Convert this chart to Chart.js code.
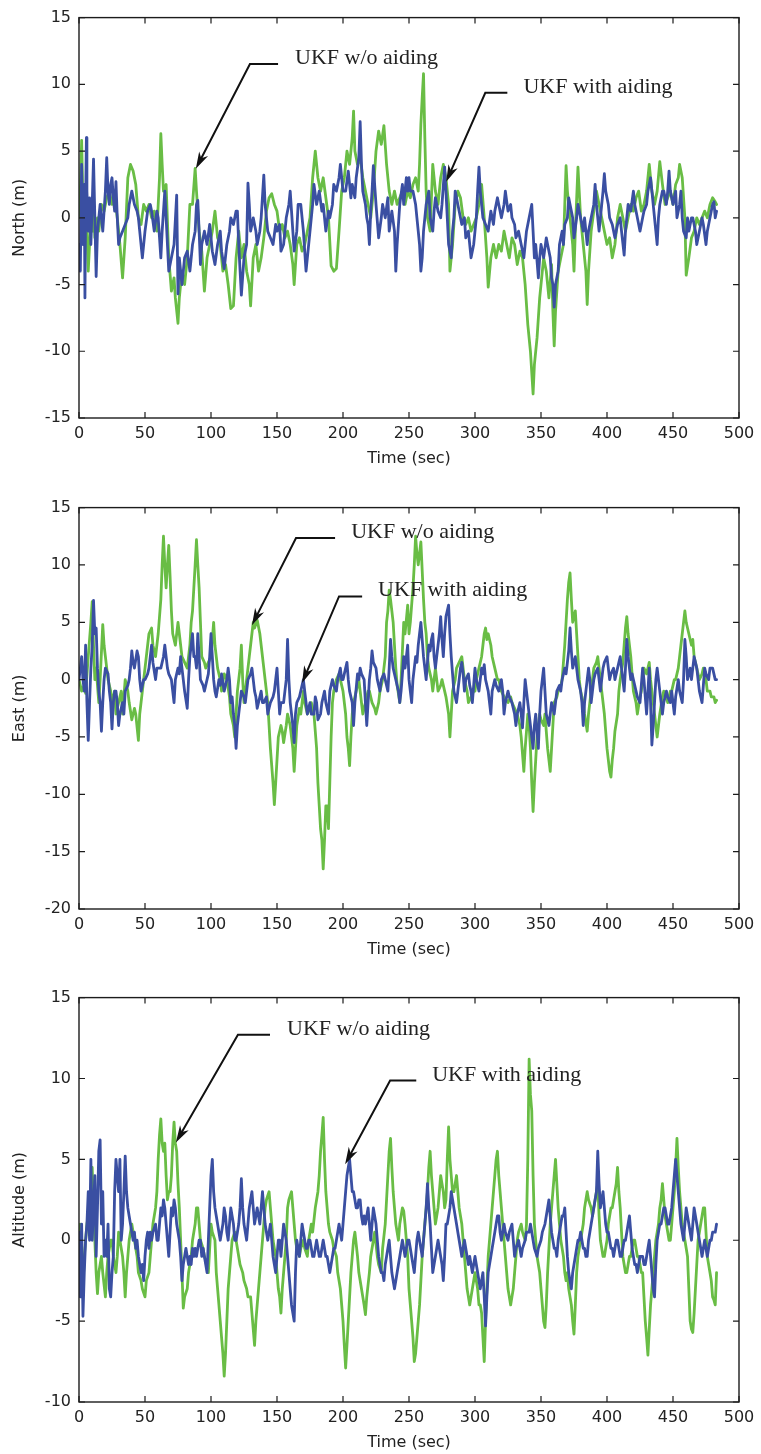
<!DOCTYPE html>
<html>
<head>
<meta charset="utf-8">
<script src="https://cdn.jsdelivr.net/npm/chart.js"></script>
<style>
  html, body { margin: 0; padding: 0; background: #ffffff; }
  #wrap { position: relative; width: 761px; height: 1454px; }
  canvas { position: absolute; left: 0; }
</style>
</head>
<body>
<div id="wrap">
  <canvas id="north" width="761" height="490" style="top:0px"></canvas>
  <canvas id="east" width="761" height="490" style="top:490px"></canvas>
  <canvas id="alt" width="761" height="474" style="top:980px"></canvas>
</div>
<script>
// Axis ranges
const timeRange = [0, 500];
const timeStep = 50;
const northRange = [-15, 15];
const eastRange = [-20, 15];
const altRange = [-10, 15];
const errorStep = 5;

// Position error series, [time (sec), error (m)]
const northWithoutAiding = [[0,0],[1,2],[2,5.8],[3,1],[4,-1],[5,2],[6,-1],[7,-4],[8,-2],[9,0],[10,-1],[11,1.5],[12,-1.5],[14,0],[15,-1],[17,1],[19,0.5],[21,1.5],[23,2],[25,1],[27,1.5],[29,0],[31,-2],[33,-4.5],[35,-1.5],[37,3],[39,4],[41,3.5],[43,2.5],[45,0],[47,-0.5],[49,1],[51,0.5],[53,1],[55,0],[57,0.5],[59,-1],[61,3],[62,6.3],[63,4],[64,2],[66,2.5],[68,-3],[70,-5.5],[72,-4.5],[73,-6],[75,-7.9],[76,-6],[78,-4],[80,-5],[82,-3],[84,1],[86,1],[88,3.7],[89,2],[91,-1],[93,-2.5],[95,-5.5],[97,-3],[99,-2],[101,-1],[103,0.5],[105,-1.5],[107,-2],[109,-4],[111,-3.5],[113,-5],[115,-6.8],[117,-6.6],[119,-3],[121,-1],[123,-3],[125,-2],[127,-4],[129,-5],[130,-6.6],[132,-3],[134,-2],[136,-4],[138,-3],[140,-1.5],[142,0.5],[144,1.5],[146,1.8],[148,1],[150,0.5],[152,-1],[154,-0.5],[156,-1.5],[158,-1],[160,-2],[162,-3.5],[163,-5],[165,-2],[167,-1.5],[169,-2.5],[171,-2],[173,-1],[175,0],[177,3],[179,5],[181,3],[183,2],[185,3],[187,1.5],[189,0],[191,-3.6],[193,-4],[195,-3.8],[197,-1],[199,2],[201,3],[203,5],[205,4],[207,6],[208,8],[209,5],[211,4],[213,4.5],[215,3],[217,2],[219,1],[221,0],[223,2],[225,5],[227,6.5],[229,5.5],[231,6.9],[233,4],[235,2],[237,1],[239,2],[241,1],[243,1.5],[245,2],[247,1],[249,2],[251,1.5],[253,2.5],[255,3],[257,2],[258,4],[259,7],[260,9],[261,10.8],[262,6],[263,2],[264,0],[266,-1],[268,4],[270,2],[272,1],[274,3],[276,4],[278,3],[280,1],[281,-4],[283,-2],[285,1],[287,2],[289,1.5],[291,0],[293,-0.5],[295,0],[297,-1],[299,-0.5],[301,0],[303,1],[305,2.5],[307,0],[309,-3],[310,-5.2],[312,-3],[314,-2],[316,-3],[318,-2],[320,-2.5],[322,-1],[324,-2],[326,-3],[328,-1.5],[330,-2],[332,-3.5],[334,-2.5],[336,-3],[338,-5],[340,-8],[342,-10],[344,-13.2],[345,-11],[347,-9],[349,-6],[350,-5],[352,-3],[354,-4],[356,-6],[358,-3.5],[359,-7],[360,-9.6],[361,-7],[363,-4],[365,-3],[367,-2],[369,3.9],[370,2],[372,0],[374,-2],[375,-4],[376,-1],[378,3.8],[380,0],[382,-2],[384,-4],[385,-6.5],[386,-4],[388,-1],[390,0.5],[392,2],[394,1],[396,0],[398,-1],[400,-2],[402,-1.5],[404,-3],[406,-2],[408,0],[410,1],[412,0],[414,-1],[416,0],[418,1],[420,0.5],[422,1.5],[424,2],[426,0.5],[428,1],[430,2],[432,4],[434,2],[436,1],[438,2],[440,4.2],[442,2.5],[444,1],[446,1.5],[448,2],[450,1],[452,2.5],[454,3],[455,4],[457,3],[459,0],[460,-4.3],[462,-3],[464,-1.5],[466,-1],[468,0],[470,-0.5],[472,0],[474,0.5],[476,0],[478,1],[480,1.5],[482,1.2],[483,1]];

const northWithAiding = [[0,-2],[1,-4],[2,4],[3,-2],[4,2.5],[4.5,-6],[5,1],[5.6,6],[6,2],[7,-1],[8,1.5],[9,-2],[10,1],[11,4.4],[12,0],[13,-4.4],[14,-1],[15,0],[16,1],[17,0],[18,-1],[19,0.5],[20,2],[21,4.5],[22,2],[23,1],[24,2.5],[25,3],[26,1.5],[27,0.5],[28,2.7],[29,0],[30,-2],[31,-1.5],[33,-1],[35,-0.5],[37,0],[38,1],[40,2],[42,1],[44,0.5],[45,0],[46,-1],[48,-3],[50,-1],[52,0.5],[54,1],[55,0.5],[57,-1],[59,0.5],[60,0],[62,-3],[63,-1],[65,2],[66,0],[68,-4],[70,-3],[72,-2],[74,1.7],[75,-5.7],[76,-3],[78,-5],[80,-3],[82,-2.5],[84,-4],[86,-2],[88,-1],[89,1],[90,1.3],[91,-1],[92,-3.5],[93,-2],[95,-1],[97,-2],[99,-0.5],[100,-1.5],[101,-2.5],[103,-3.5],[105,-2],[107,-1],[108,-2.5],[110,-3.8],[112,-2],[114,-1],[115,0],[117,-0.5],[119,0.5],[120,0.5],[121,-2],[123,-5.8],[125,-3],[127,-2],[128,2.6],[129,1],[130,-1],[132,0],[134,-1],[135,-2],[137,-1],[138,0],[140,3.2],[141,1],[143,-1],[145,-1.5],[147,-2],[149,-0.5],[150,-1],[152,-0.5],[153,-2.5],[155,-2],[157,0],[159,1],[160,2],[161,0.5],[162,-1],[163,-2.5],[165,-1],[166,1],[168,1],[170,-1],[172,-4],[173,-3],[175,-1],[177,1],[178,2.5],[180,1],[182,2],[184,0.5],[185,1],[187,-1],[189,0.5],[190,0],[192,1],[193,2.5],[195,2],[197,3],[198,4],[200,2],[202,2],[204,3.5],[206,1.5],[207,2.5],[209,1.5],[210,3],[212,4.5],[213,7.2],[214,4],[215,2],[217,1],[218,0],[219,-0.5],[220,-2],[221,0.5],[222,2],[223,3.9],[225,1],[227,-1.5],[229,0],[230,1],[232,0],[234,1.5],[235,-1],[237,0.5],[239,-1],[240,-4],[241,-2],[243,1],[245,2.5],[246,1],[248,3],[249,2],[250,3],[251,2],[253,2],[255,1],[256,0],[257,-1],[258,-2],[259,-4],[260,-3],[261,-1],[262,0],[263,1],[265,2],[266,0],[268,-1],[269,0.5],[270,1.5],[272,0.5],[274,0],[275,1],[277,3.8],[278,2],[279,0],[280,-2],[282,-3],[283,-1],[284,0],[285,2],[287,1],[289,0],[290,-0.5],[292,0],[293,-1.5],[295,-1],[297,-3],[299,-2],[300,-1],[301,0],[302,2],[303,3.8],[304,2],[306,0],[308,-0.5],[310,-1],[312,0.5],[314,-0.5],[315,0.5],[317,1.5],[318,1],[320,0],[322,1],[323,2],[325,0.5],[327,1],[328,0],[330,-0.5],[331,-1.5],[333,-1],[335,-2],[337,-3],[339,-1],[341,0],[343,1],[344,-1],[345,-3],[346,-2],[348,-4.5],[349,-3],[350,-2],[352,-3],[354,-1.5],[355,-2],[357,-3],[358,-4.5],[359,-5],[360,-6.7],[361,-5],[362,-4.5],[363,-4],[364,-2],[366,-1],[367,-2],[368,-0.5],[370,0],[371,1.5],[372,1],[374,0],[375,-1.5],[377,0],[378,1],[380,0],[382,-1],[383,0],[385,-2],[386,-1],[388,0],[390,1],[391,2.5],[392,1],[394,-1],[395,0],[397,2],[398,3.3],[399,2],[401,1],[402,0],[404,-0.5],[406,-1.5],[408,-0.5],[410,0],[411,-1],[413,-2.8],[414,-1],[415,0],[416,1],[418,0.5],[420,2],[421,1],[423,0],[425,-1],[427,0],[428,0.5],[430,1],[431,2],[433,3],[434,2],[436,0],[437,-1],[438,-2],[439,0],[440,1],[442,2],[443,2],[445,1],[446,2],[447,3.5],[448,2],[450,1],[452,2],[453,0],[455,1],[456,2],[457,0],[458,-1],[460,-1.5],[461,0],[462,-1],[464,0],[465,0],[467,-1],[468,-2],[470,-1],[472,0],[473,-0.5],[475,-2],[476,-1],[478,0],[480,1],[481,1.2],[482,0],[483,0.5]];

const eastWithoutAiding = [[0,0],[2,-1],[4,-0.5],[5,-1.2],[7,2],[9,5],[10,6.8],[11,3],[12,0],[13,1],[15,-2],[16,0],[18,4.8],[19,3],[20,2],[22,0],[24,-1],[25,-2],[27,-1],[28,-3],[30,-2],[32,-1],[33,-3],[35,0],[37,-1],[38,-2],[40,-3.5],[42,-2.5],[43,-3],[45,-5.3],[46,-3],[48,-1],[50,1],[52,3],[53,4],[55,4.5],[56,3],[58,2],[60,4],[62,7],[63,10],[64,12.5],[65,10],[66,8],[67,10],[68,11.7],[69,9],[70,6],[71,4],[73,3],[75,5],[76,4],[78,2],[80,1.5],[82,1],[84,3],[85,5],[86,6],[87,8],[88,10],[89,12.2],[90,10],[91,8],[92,5],[93,2],[95,1.5],[96,1],[98,1.5],[100,2],[102,5],[103,3],[105,1],[107,0],[108,-1],[110,0.5],[112,0],[114,-1.5],[115,-3],[117,-4],[118,-5],[119,-3],[120,-1],[122,1],[123,3],[124,0],[125,-2],[127,0],[129,2],[130,3],[131,4],[132,5],[133,4.5],[135,5.2],[137,4],[138,3],[140,1],[141,0],[143,-2],[144,-4],[145,-6],[146,-7.5],[147,-9],[148,-10.9],[149,-9],[150,-7],[151,-5],[153,-4],[154,-4.5],[155,-5.5],[157,-4],[158,-3],[160,-4],[161,-5],[162,-6],[163,-8],[164,-6],[165,-4],[167,-2.5],[168,-3],[170,-1],[171,-2],[173,-3],[175,-2.5],[176,-2],[178,-3],[180,-6],[181,-9],[182,-11],[183,-13],[184,-14],[185,-16.5],[186,-14],[187,-11],[188,-11],[189,-13],[190,-9],[191,-5],[192,-2],[193,-1],[195,0],[197,0.5],[199,-0.5],[200,-1],[202,-3],[203,-5],[204,-6],[205,-7.5],[206,-5],[207,-3],[208,-2],[210,-1],[212,0],[213,-1],[215,-3],[217,-2],[219,-1],[220,-1],[222,-2],[224,-2.5],[225,-3],[227,-2],[228,-1],[230,0],[232,2],[233,5],[234,6],[235,7.8],[236,7],[237,6],[238,5],[239,3],[240,1],[241,-0.5],[243,-2],[244,0],[246,5],[247,4],[249,6.5],[250,4],[251,5],[253,8],[254,10],[255,12.5],[256,11],[257,10],[258,11],[259,12],[260,9.5],[261,7],[262,5],[263,4],[264,2],[265,1],[267,0],[268,-1],[269,0],[270,1],[272,-1],[274,-0.5],[275,0],[277,-1],[278,-1.5],[280,-3],[281,-5],[282,-3],[283,-1],[285,0],[286,1],[288,1.5],[290,2],[291,1],[292,0],[294,-1],[295,-2],[297,-1.5],[299,-1],[300,-1],[301,0],[303,1],[305,2],[306,3],[307,4],[308,4.5],[309,3.5],[310,4],[312,3],[313,2],[315,1],[317,0],[318,0],[320,-1],[322,-1.5],[325,-2],[327,-1.5],[328,-2],[330,-2.5],[332,-3],[334,-4],[335,-5],[336,-6.5],[337,-8],[338,-6],[340,-3],[341,-4],[342,-6],[343,-9],[344,-11.5],[345,-9],[346,-7],[347,-5],[349,-3],[350,-3.5],[352,-4],[353,-3],[355,-6],[356,-7],[357,-8],[358,-6],[359,-4],[360,-2],[362,-1.5],[363,-1],[365,-0.5],[366,0],[367,1.5],[368,3],[369,5],[370,7],[371,8.5],[372,9.3],[373,7],[374,5],[375,5.5],[376,6],[377,4],[378,2],[379,0],[380,-1],[382,-2],[383,-3],[385,-4.5],[386,-3],[388,-1],[389,0],[390,1],[392,1.5],[393,2],[395,0],[396,-1],[398,-3],[399,-4.5],[400,-6],[401,-7],[402,-8],[403,-8.5],[404,-7],[405,-6],[406,-4.5],[408,-3],[409,-1],[410,0],[412,1.5],[413,3],[414,4.5],[415,5.5],[416,4],[418,2],[419,0.5],[420,-1],[422,-2],[423,-3],[425,-1.5],[426,-1],[428,1],[430,0.5],[432,1.5],[433,0],[435,-2],[436,-3],[437,-4],[438,-5],[439,-4],[440,-3],[442,-1.5],[443,-1],[445,-1.5],[446,-2],[448,-1],[449,-1],[451,0],[452,0],[454,1],[455,2],[456,3],[457,4],[458,5],[459,6],[460,5],[461,4.5],[462,4],[464,3],[465,3.5],[466,2],[468,1],[469,0.5],[470,0],[472,0.5],[473,1],[475,0],[476,-1],[478,-1],[479,-1.5],[481,-1.5],[482,-2],[483,-1.8]];

const eastWithAiding = [[0,0],[1,1],[2,2],[3,0],[4,-1],[5,3],[6,-2],[7,-5.3],[8,-2],[9,1],[10,3],[11,6.9],[12,4],[13,4.5],[14,1],[15,-1],[16,-2],[17,-4.5],[18,-2],[19,0],[20,1],[22,0.5],[23,-1],[24,-2],[25,-4.3],[26,-2],[27,-1],[28,-1],[29,-2],[30,-4],[31,-3],[33,-2],[34,-3],[35,-1],[37,-0.5],[38,0],[39,1],[40,2.5],[41,1.5],[42,1],[44,2.5],[45,2],[46,0],[47,-1],[49,0],[50,0],[52,0.5],[53,1],[54,2],[55,3],[56,1.5],[58,0],[59,1],[60,1],[62,1],[63,1.5],[64,2],[65,3],[66,2],[67,1],[68,0.5],[70,0],[71,-1],[72,-2],[73,0],[75,1],[76,0.5],[77,2],[79,0],[80,-1],[82,-2.5],[83,0],[84,2],[86,4],[87,2],[88,2],[89,1],[90,4],[91,2],[92,0],[94,-0.5],[95,-1],[97,0],[98,0.5],[99,2],[100,4],[101,2],[102,0],[103,-1],[104,-1.5],[106,0],[107,-0.5],[108,0.5],[110,-1],[112,0],[113,1],[114,0],[115,-2],[116,-1.5],[117,-3],[118,-4],[119,-6],[120,-4],[121,-3],[122,-2],[123,-1],[125,-1.5],[126,-2],[127,-1],[128,0],[130,0.5],[131,1],[132,0],[133,-1],[134,-1.5],[135,-2.5],[137,-1.5],[138,-1],[139,-2],[140,-2],[142,-1.5],[143,-3],[144,-2.5],[145,-2],[147,-1.5],[148,-1],[149,0],[150,1],[151,-1],[152,-3],[153,-2],[155,-2],[156,-1],[157,0],[158,3.5],[159,0],[160,-2],[161,-3],[162,-4],[163,-5.5],[164,-3],[165,-2],[167,-1.5],[168,-1],[169,-0.5],[170,0],[171,-1],[173,-3],[174,-2.5],[175,-2],[176,-3],[178,-3],[179,-1.5],[180,-2],[181,-3.5],[183,-3],[184,-2],[186,-1],[187,-2],[189,-3],[190,-1],[192,0],[193,-0.5],[195,-1],[196,0],[198,1],[199,0],[200,0],[202,1],[203,1.5],[204,0],[205,-1],[207,-2],[208,-4],[209,-2],[211,0.5],[212,0],[213,1],[214,0.5],[216,0],[217,-2],[218,-4],[219,-2],[220,0],[221,1],[222,2.5],[223,1.5],[225,1],[226,0],[228,-1],[229,0],[231,0.5],[232,0],[234,-1],[235,1],[236,3.5],[237,2],[238,1],[239,0.5],[240,0],[242,-1],[243,-2],[244,-1],[246,2],[247,1],[249,3],[250,0],[251,-1],[252,-2],[253,0],[255,2],[256,1.5],[257,3],[258,4],[259,5],[260,3.5],[261,2],[262,1],[263,0],[264,1.5],[265,3],[266,2.5],[267,3.5],[268,4],[269,2],[270,1],[271,2],[272,3],[273,4],[274,5.5],[275,3.5],[276,2],[277,4],[278,5.5],[279,6],[280,6.5],[281,4],[282,2],[283,0.5],[284,-1],[285,-1.5],[286,-2],[287,-1],[288,0],[289,1],[290,1.5],[291,0.5],[292,-1],[293,0],[295,0.5],[296,-0.5],[297,-1],[298,-2],[299,-0.5],[300,1],[301,0],[302,-0.5],[303,-1],[304,0],[305,1],[306,0.5],[307,1.3],[308,0],[310,-1],[311,-2],[312,-3],[313,-1],[315,0],[316,-0.5],[318,-1],[319,-0.5],[320,0],[321,-1],[322,-3],[323,-2],[325,-1],[326,-1.5],[328,-2],[330,-3],[331,-4],[332,-3],[334,-2],[335,-3],[336,-4.2],[337,-2],[338,0],[339,-1],[340,-2],[341,-3],[342,-4],[343,-5],[344,-6],[345,-4],[346,-3],[347,-4.5],[348,-6],[349,-3],[350,-1],[351,0],[352,1],[353,-1],[354,-3],[355,-3.5],[356,-4],[357,-3],[358,-2],[359,-2.5],[360,-3],[361,-2],[362,-1],[364,-0.5],[365,-1],[366,0],[367,0.5],[368,1],[369,0.5],[370,1.5],[371,2.5],[372,4.5],[373,2.5],[374,1],[375,1.5],[376,2],[377,1],[378,0],[379,-0.5],[380,-1],[381,-2],[382,-4],[383,-2],[384,-1],[385,0],[386,1],[387,0],[388,-2],[389,-1],[390,0],[391,0.5],[393,1],[394,0],[395,-1],[396,0],[397,1],[398,1.5],[400,2],[401,1],[402,0],[403,0.5],[405,1],[406,0],[408,1],[409,1.5],[410,2],[411,1],[412,0],[413,-1],[414,1],[415,3.5],[416,2],[417,1],[418,0],[419,0.5],[420,0],[421,-0.5],[422,-1],[423,-1.5],[425,-2],[426,-0.5],[427,1],[428,0],[429,-1.5],[430,-3],[431,-1],[432,1],[433,-2],[434,-5.7],[435,-4],[436,-2],[437,0],[438,1],[439,0],[440,-1],[441,-2],[442,-3],[443,-2],[445,-1],[446,-1.5],[448,-2],[449,-1],[450,-2],[451,-3],[452,-1.5],[454,0],[455,-1],[457,-2],[458,0],[459,3.5],[460,2],[461,0],[462,0.5],[463,1],[464,0],[465,1],[466,2],[467,1.5],[468,1],[469,0],[470,-1],[471,-1.5],[472,-2],[473,-0.5],[474,1],[475,0.5],[477,0],[478,1],[480,1],[481,0.5],[482,0],[483,0]];

const altWithoutAiding = [[0,0],[1,1],[2,-1],[3,-3],[4,-1],[5,0],[6,1],[8,2],[9,3],[10,4.5],[11,2],[12,0],[13,-2],[14,-3.3],[15,-2],[17,-1],[18,-2],[20,-3.5],[21,-2],[22,-1],[24,0],[25,0],[26,-1],[28,-2],[29,-1],[30,0.5],[31,0],[33,-1],[34,-2],[35,-3.5],[36,-2],[38,0],[39,0.5],[40,1],[41,0.5],[42,0],[44,-1],[45,-2],[47,-2.5],[48,-3],[50,-3.5],[51,-2.5],[53,-2],[54,-1],[55,0],[56,1],[58,2],[59,3],[60,5],[61,6.5],[62,7.5],[63,6],[64,5.5],[65,6],[66,4],[67,2.5],[68,3],[69,3],[70,4],[71,6],[72,7.3],[73,6],[74,5.5],[75,3.5],[76,2],[77,0],[78,-2],[79,-4.2],[80,-3.5],[82,-3],[83,-2],[85,-1],[86,0],[88,1],[89,2],[90,2],[91,1],[92,0],[94,-0.5],[95,-1],[97,-1.5],[98,-2],[99,-0.5],[100,1],[101,0.5],[103,0],[104,-2],[106,-4],[107,-5],[108,-6],[109,-7],[110,-8.4],[111,-7],[112,-5],[113,-3],[114,-2],[115,-1],[116,0],[118,0.5],[119,0],[121,-1],[122,-1.5],[124,-2],[125,-2.5],[127,-3],[128,-3.5],[130,-3.5],[131,-4.5],[132,-5.5],[133,-6.5],[134,-5],[135,-4],[136,-3],[137,-2],[138,-1],[139,0],[140,1],[141,2],[142,2.5],[144,3],[145,2],[146,1],[147,0],[149,-1],[150,-2],[151,-3],[152,-3.5],[153,-4.5],[154,-3],[155,-2],[156,-1],[157,0],[158,2],[159,2.5],[161,3],[162,2],[163,1],[164,0],[165,-0.5],[167,-1],[168,-0.5],[170,0],[171,-0.5],[173,-1],[174,0],[176,1],[177,0.5],[179,2],[180,2.5],[181,3],[182,4],[183,5.5],[184,6.5],[185,7.6],[186,5],[187,3],[188,2],[189,1],[190,0.5],[192,0],[193,-0.5],[195,-1],[196,-2],[198,-3],[199,-4],[200,-5],[201,-6.5],[202,-7.9],[203,-6.5],[204,-5],[205,-3.5],[206,-2],[207,-1],[208,0],[209,0.5],[211,-1],[212,-2],[214,-3],[215,-3.5],[216,-4],[217,-4.6],[218,-3.5],[220,-2],[221,-1],[223,0],[224,0.5],[226,-1],[227,-1.5],[229,-2],[230,-0.5],[232,1],[233,2.5],[234,4],[235,5.5],[236,6.3],[237,4.5],[238,3],[239,2],[240,1],[241,0.5],[242,0],[243,1],[244,1.5],[245,2],[246,1.8],[247,1],[248,0],[249,-1],[250,-3],[251,-4],[252,-5],[253,-6],[254,-7.5],[255,-7],[256,-6],[257,-5],[258,-4],[259,-2.5],[260,-1],[261,0],[262,1],[263,2],[264,3],[265,4.5],[266,5.5],[267,4],[268,3],[269,2],[270,1],[271,1.5],[272,2],[273,3],[274,4],[275,3.5],[276,3],[277,2],[278,2.5],[279,5],[280,7],[281,5],[282,4],[283,3],[284,3],[285,3.5],[286,4],[287,3],[288,2],[289,1.5],[290,1],[291,0],[292,-1],[293,-2],[294,-3],[295,-3.5],[296,-4],[297,-3.5],[298,-3],[299,-2.5],[300,-2],[301,-2.5],[302,-3],[303,-4],[304,-4],[305,-4.5],[306,-6],[307,-7.5],[308,-5],[309,-3],[310,-1],[311,0],[312,1],[313,2],[314,3],[315,4],[316,5],[317,5.5],[318,4],[319,3],[320,2],[321,1],[322,0],[323,-1],[324,-2],[325,-3],[326,-3.5],[327,-4],[328,-3.5],[329,-3],[330,-2],[331,-1],[332,0],[333,0.5],[335,1],[336,0.5],[338,0],[339,1],[340,5],[341,11.2],[342,9],[343,8],[344,4],[345,1],[346,0],[347,-1],[348,-1.5],[349,-2],[350,-3],[351,-4],[352,-5],[353,-5.4],[354,-4],[355,-2],[356,-0.5],[357,1],[358,2],[359,3],[360,4],[361,5],[362,3.5],[363,2],[364,1],[365,0],[366,-0.5],[367,-1],[368,-2],[369,-2.5],[370,-2],[371,-3],[372,-3.5],[373,-4],[374,-5],[375,-5.8],[376,-4],[377,-2],[378,-1],[379,-0.5],[380,0],[381,0.5],[382,1],[383,2],[384,2.5],[385,3],[386,2.5],[388,2],[389,1.5],[390,2],[391,2.5],[392,3],[393,3.5],[394,1.5],[395,0],[396,-0.5],[397,-1],[398,-1],[399,-0.5],[400,0],[401,1],[402,1.5],[403,2],[404,2],[405,2.5],[406,3],[407,3.5],[408,4.5],[409,3],[410,2],[411,0.5],[412,-1],[413,-1.5],[414,-2],[415,-2],[416,-1.5],[417,-1],[418,-1],[419,-0.5],[420,0],[421,0],[422,-0.5],[423,-1],[424,-1],[425,-1.5],[426,-2],[427,-2],[428,-3.5],[429,-5],[430,-6],[431,-7.1],[432,-5.5],[433,-4],[434,-3],[435,-2],[436,-1],[437,0],[438,0.5],[439,1],[440,2],[441,2.5],[442,3.5],[443,2.5],[444,1.5],[445,1],[446,0.5],[447,0],[448,0],[449,1],[450,2],[451,3],[452,4.5],[453,6.3],[454,4.5],[455,3],[456,2],[457,1],[458,0.5],[459,0],[460,-0.5],[461,-1],[462,-3],[463,-5],[464,-5.5],[465,-5.7],[466,-4.5],[467,-3],[468,-1.5],[469,0],[470,0.5],[471,1],[472,1.5],[473,2],[474,2],[475,0.5],[476,-1],[477,-1.5],[478,-2],[479,-2.5],[480,-3.5],[481,-3.7],[482,-4],[483,-2]];

const altWithAiding = [[0,0.5],[1,-3.5],[2,1],[3,-4.7],[4,-2],[5,0],[6,1],[7,3],[8,0],[9,5],[10,0],[11,2],[12,4],[13,-1],[14,2],[15,5.5],[16,6.2],[17,1],[18,3],[19,-1],[20,0],[21,-1],[22,1],[23,-3],[24,-3.5],[25,-2],[26,-1],[27,3],[28,5],[29,4],[30,3],[31,5],[32,0],[33,1],[34,3],[35,5.2],[36,3],[37,2],[38,1.5],[39,1],[40,0.5],[41,0],[42,0.5],[43,-0.5],[44,0],[45,-1],[46,-1.5],[47,-2],[48,-1.5],[49,-2.5],[50,-1],[51,0],[52,0.5],[53,-0.5],[54,0.5],[55,0],[56,0.5],[58,1],[59,0],[60,0],[61,1],[62,2],[63,1.5],[64,2.5],[65,2],[66,1],[67,0],[68,-1],[69,0.5],[70,2],[71,1.5],[72,2.5],[73,2],[74,1],[75,0.5],[76,0],[77,-1],[78,-2.5],[79,-1.5],[80,-1],[81,-0.5],[82,-1],[83,-1.5],[84,-1],[85,-1.5],[86,-0.5],[87,-1],[88,-0.5],[89,-1],[90,-0.5],[91,0],[92,0],[93,-1],[94,-0.5],[95,-1],[96,-1.5],[97,-2],[98,0],[99,2],[100,4],[101,5],[102,3],[103,2],[104,1.5],[105,1],[106,0.5],[107,0],[108,0.5],[109,1],[110,2],[111,1.5],[112,0.5],[113,0],[114,1],[115,2],[116,1.5],[117,1],[118,0],[119,0],[120,0.5],[121,1],[122,2],[123,3.8],[124,2],[125,1],[126,0.5],[127,0],[128,1],[129,2],[130,2.5],[131,3],[132,2],[133,1],[134,1.5],[135,2],[136,1.5],[137,1],[138,2],[139,3],[140,2],[141,1],[142,0.5],[143,0],[144,0.5],[145,1],[146,0],[147,-1],[148,-1.5],[149,-2],[150,-1],[151,0],[152,0],[153,-1],[154,0],[155,1],[156,0.5],[157,0],[158,-1],[159,-2],[160,-3],[161,-4],[162,-4.5],[163,-5],[164,-2],[165,0],[166,-0.5],[167,-1],[168,0],[169,1],[170,0.5],[171,0],[172,-0.5],[173,-0.5],[174,0],[175,0],[176,-0.5],[177,-1],[178,-1],[179,-0.5],[180,0],[181,-0.5],[182,-1],[183,-1],[184,-0.5],[185,0],[186,-0.5],[187,-1],[188,-1],[189,-1.5],[190,-2],[191,-1.5],[192,-1],[193,-0.5],[194,-0.5],[195,0],[196,0.5],[197,1],[198,0.5],[199,0],[200,1],[201,2],[202,3],[203,4],[204,4.5],[205,5],[206,4],[207,3],[208,3],[209,2.5],[210,2],[211,2],[212,2.5],[213,2.5],[214,1.5],[215,1],[216,1.5],[217,1],[218,1.5],[219,2],[220,1],[221,0],[222,1],[223,2],[224,1.5],[225,1],[226,0],[227,-1],[228,-1.5],[229,-2],[230,-2],[231,-2.5],[232,-1.5],[233,-1],[234,-0.5],[235,0],[236,-1],[237,-2],[238,-2.5],[239,-3],[240,-2.5],[241,-2],[242,-1.5],[243,-1],[244,-0.5],[245,0],[246,-0.5],[247,-1],[248,-0.5],[249,0],[250,0],[251,-0.5],[252,-1],[253,-1.5],[254,-2],[255,-1],[256,0],[257,0.5],[258,0],[259,-0.5],[260,-1],[261,0],[262,1],[263,2],[264,3.5],[265,2],[266,1],[267,-0.5],[268,-2],[269,-1.5],[270,-1],[271,-0.5],[272,0],[273,-0.5],[274,-1],[275,-1.5],[276,-2.5],[277,-1],[278,1],[279,1],[280,1.5],[281,2],[282,3],[283,2.5],[284,2],[285,1.5],[286,1],[287,0.5],[288,0],[289,-0.5],[290,-1],[291,-0.5],[292,0],[293,-0.5],[294,-1],[295,-1.5],[296,-1],[297,-1.5],[298,-2],[299,-1.5],[300,-1],[301,-1.5],[302,-2],[303,-2.5],[304,-3],[305,-2.5],[306,-2],[307,-3.5],[308,-5.3],[309,-3.5],[310,-2],[311,-1.5],[312,-1],[313,-0.5],[314,0],[315,0.5],[316,1],[317,1.5],[318,1.5],[319,0.5],[320,0],[321,0.5],[322,1],[323,0.5],[325,0],[326,0.5],[328,1],[329,0],[330,-1],[331,-0.5],[333,0],[334,-0.5],[335,-1],[336,-0.5],[338,0],[339,0.5],[341,0.5],[342,1],[344,0],[345,-0.5],[347,-1],[348,-0.5],[350,0],[351,0.5],[353,1],[354,1.5],[355,2],[356,2.5],[357,1.5],[358,0.5],[359,0],[360,-0.5],[361,-0.5],[362,-1],[363,0],[364,0.5],[365,1],[366,1.5],[367,1.5],[368,2],[369,0.5],[370,-1],[371,-2],[372,-2.5],[373,-3],[374,-2],[375,-1.5],[376,-1],[377,-0.5],[378,0],[379,0],[380,0.5],[381,0],[382,-0.5],[383,-0.5],[384,-1],[385,-1],[386,0],[387,0.5],[388,1],[389,1.5],[390,2],[391,2.5],[392,3],[393,5.5],[394,3.5],[395,2],[396,2.5],[397,3],[398,2],[399,1],[400,0.5],[401,0.5],[402,0],[403,-0.5],[404,-0.5],[405,-1],[406,-0.5],[407,0],[408,0],[409,-0.5],[410,-1],[411,-1],[412,-0.5],[413,0],[414,0],[415,0.5],[416,1],[417,1.5],[418,0.5],[419,-0.5],[420,-1],[421,-1.5],[422,-1.5],[423,-2],[424,-1.5],[425,-1],[426,-1],[427,-1],[428,-1.5],[429,-1.5],[430,-1],[431,-0.5],[432,0],[433,-1],[434,-2],[435,-3],[436,-3.5],[437,-1.5],[438,0],[439,0.5],[440,1],[441,1],[442,1.5],[443,2],[444,2],[445,1.5],[446,1],[447,1],[448,1.5],[449,2],[450,3],[451,4],[452,5],[453,4],[454,3],[455,2],[456,1],[457,0.5],[458,0],[459,1],[460,2],[461,1.5],[462,1],[463,0.5],[464,0],[465,1],[466,2],[467,1.5],[468,1],[469,0.5],[470,0],[471,-0.5],[472,-1],[473,-0.5],[474,0],[475,-0.5],[476,-1],[477,-0.5],[478,0],[479,0],[480,0.5],[481,0.5],[482,0.5],[483,1]];

// Callout labels: arrow tip, elbow, end of the horizontal leader, text anchor (all in data units)
const callouts = {
  north: [
    { text: 'UKF w/o aiding', tip: [88.5, 3.67], elbow: [129.5, 11.52], end: [150.8, 11.52], label: [163.7, 11.52] },
    { text: 'UKF with aiding', tip: [278.2, 2.7], elbow: [307.8, 9.37], end: [324.5, 9.37], label: [336.7, 9.37] }
  ],
  east: [
    { text: 'UKF w/o aiding', tip: [131, 4.74], elbow: [164.4, 12.35], end: [194, 12.35], label: [206.2, 12.35] },
    { text: 'UKF with aiding', tip: [169, -0.29], elbow: [197, 7.25], end: [214.5, 7.25], label: [226.6, 7.25] }
  ],
  alt: [
    { text: 'UKF w/o aiding', tip: [73.4, 6.05], elbow: [120.4, 12.7], end: [144.7, 12.7], label: [157.6, 12.7] },
    { text: 'UKF with aiding', tip: [201.6, 4.7], elbow: [235.7, 9.87], end: [255.5, 9.87], label: [267.6, 9.87] }
  ]
};

const INK = '#1c1c1c';
const TEXT = '#222222';
const SANS = 'DejaVu Sans';

// Box around the axes with inward tick marks on all four sides
const framePlugin = {
  id: 'frame',
  afterDatasetsDraw(chart) {
    const { ctx, chartArea: a, scales: { x, y } } = chart;
    const len = 6;
    ctx.save();
    ctx.strokeStyle = INK;
    ctx.lineWidth = 1.2;
    ctx.beginPath();
    x.ticks.forEach(t => {
      const p = x.getPixelForValue(t.value);
      ctx.moveTo(p, a.bottom); ctx.lineTo(p, a.bottom - len);
      ctx.moveTo(p, a.top); ctx.lineTo(p, a.top + len);
    });
    y.ticks.forEach(t => {
      const p = y.getPixelForValue(t.value);
      ctx.moveTo(a.left, p); ctx.lineTo(a.left + len, p);
      ctx.moveTo(a.right, p); ctx.lineTo(a.right - len, p);
    });
    ctx.stroke();
    ctx.lineWidth = 1.4;
    ctx.strokeRect(a.left, a.top, a.right - a.left, a.bottom - a.top);
    ctx.restore();
  }
};

// Text callouts with bent leader and arrowhead
const calloutPlugin = {
  id: 'callouts',
  afterDraw(chart) {
    const items = callouts[chart.canvas.id] || [];
    const { ctx, scales: { x, y } } = chart;
    const px = p => [x.getPixelForValue(p[0]), y.getPixelForValue(p[1])];
    items.forEach(c => {
      const tip = px(c.tip), elbow = px(c.elbow), end = px(c.end), lab = px(c.label);
      const dx = tip[0] - elbow[0], dy = tip[1] - elbow[1];
      const L = Math.hypot(dx, dy), ux = dx / L, uy = dy / L;
      const hl = 17, hw = 5;
      ctx.save();
      ctx.strokeStyle = '#111';
      ctx.fillStyle = '#111';
      ctx.lineWidth = 2;
      ctx.lineJoin = 'miter';
      ctx.beginPath();
      ctx.moveTo(end[0], end[1]);
      ctx.lineTo(elbow[0], elbow[1]);
      ctx.lineTo(tip[0] - ux * hl * 0.6, tip[1] - uy * hl * 0.6);
      ctx.stroke();
      ctx.beginPath();
      ctx.moveTo(tip[0], tip[1]);
      ctx.lineTo(tip[0] - ux * hl - uy * hw, tip[1] - uy * hl + ux * hw);
      ctx.lineTo(tip[0] - ux * hl * 0.7, tip[1] - uy * hl * 0.7);
      ctx.lineTo(tip[0] - ux * hl + uy * hw, tip[1] - uy * hl - ux * hw);
      ctx.closePath();
      ctx.fill();
      ctx.font = '22px "Liberation Serif"';
      ctx.fillStyle = TEXT;
      ctx.textAlign = 'left';
      ctx.textBaseline = 'alphabetic';
      ctx.fillText(c.text, lab[0], lab[1]);
      ctx.restore();
    });
  }
};

const toPoints = series => series.map(([t, v]) => ({ x: t, y: v }));

function errorChart(id, yTitle, range, withoutAiding, withAiding, padTop, padBottom) {
  const lineStyle = { borderWidth: 2.8, pointRadius: 0, tension: 0, fill: false, borderJoinStyle: 'round', borderCapStyle: 'round' };
  return new Chart(document.getElementById(id), {
    type: 'line',
    data: {
      datasets: [
        Object.assign({ label: 'UKF with aiding', data: toPoints(withAiding), borderColor: '#3a4fa2' }, lineStyle),
        Object.assign({ label: 'UKF w/o aiding', data: toPoints(withoutAiding), borderColor: '#69bd45' }, lineStyle)
      ]
    },
    options: {
      responsive: false,
      animation: false,
      devicePixelRatio: 1,
      events: [],
      layout: { padding: { left: 0, right: 22, top: padTop, bottom: padBottom } },
      plugins: { legend: { display: false }, tooltip: { enabled: false } },
      scales: {
        x: {
          type: 'linear',
          min: timeRange[0], max: timeRange[1],
          grid: { display: false, drawTicks: false },
          border: { display: false },
          ticks: { stepSize: timeStep, autoSkip: false, maxRotation: 0, padding: 6, color: TEXT, font: { family: SANS, size: 16 } },
          title: { display: true, text: 'Time (sec)', color: TEXT, font: { family: SANS, size: 16 }, padding: { top: 0, bottom: 2 } },
          afterFit(s) { s.height = 52; }
        },
        y: {
          type: 'linear',
          min: range[0], max: range[1],
          grid: { display: false, drawTicks: false },
          border: { display: false },
          ticks: { stepSize: errorStep, padding: 8, color: TEXT, font: { family: SANS, size: 16 } },
          title: { display: true, text: yTitle, color: TEXT, font: { family: SANS, size: 16 }, padding: { top: 10, bottom: 0 } },
          afterFit(s) { s.width = 79; }
        }
      }
    },
    plugins: [framePlugin, calloutPlugin]
  });
}

errorChart('north', 'North (m)', northRange, northWithoutAiding, northWithAiding, 14, 20);
errorChart('east', 'East (m)', eastRange, eastWithoutAiding, eastWithAiding, 15, 19);
errorChart('alt', 'Altitude (m)', altRange, altWithoutAiding, altWithAiding, 16, 0);
</script>
</body>
</html>
